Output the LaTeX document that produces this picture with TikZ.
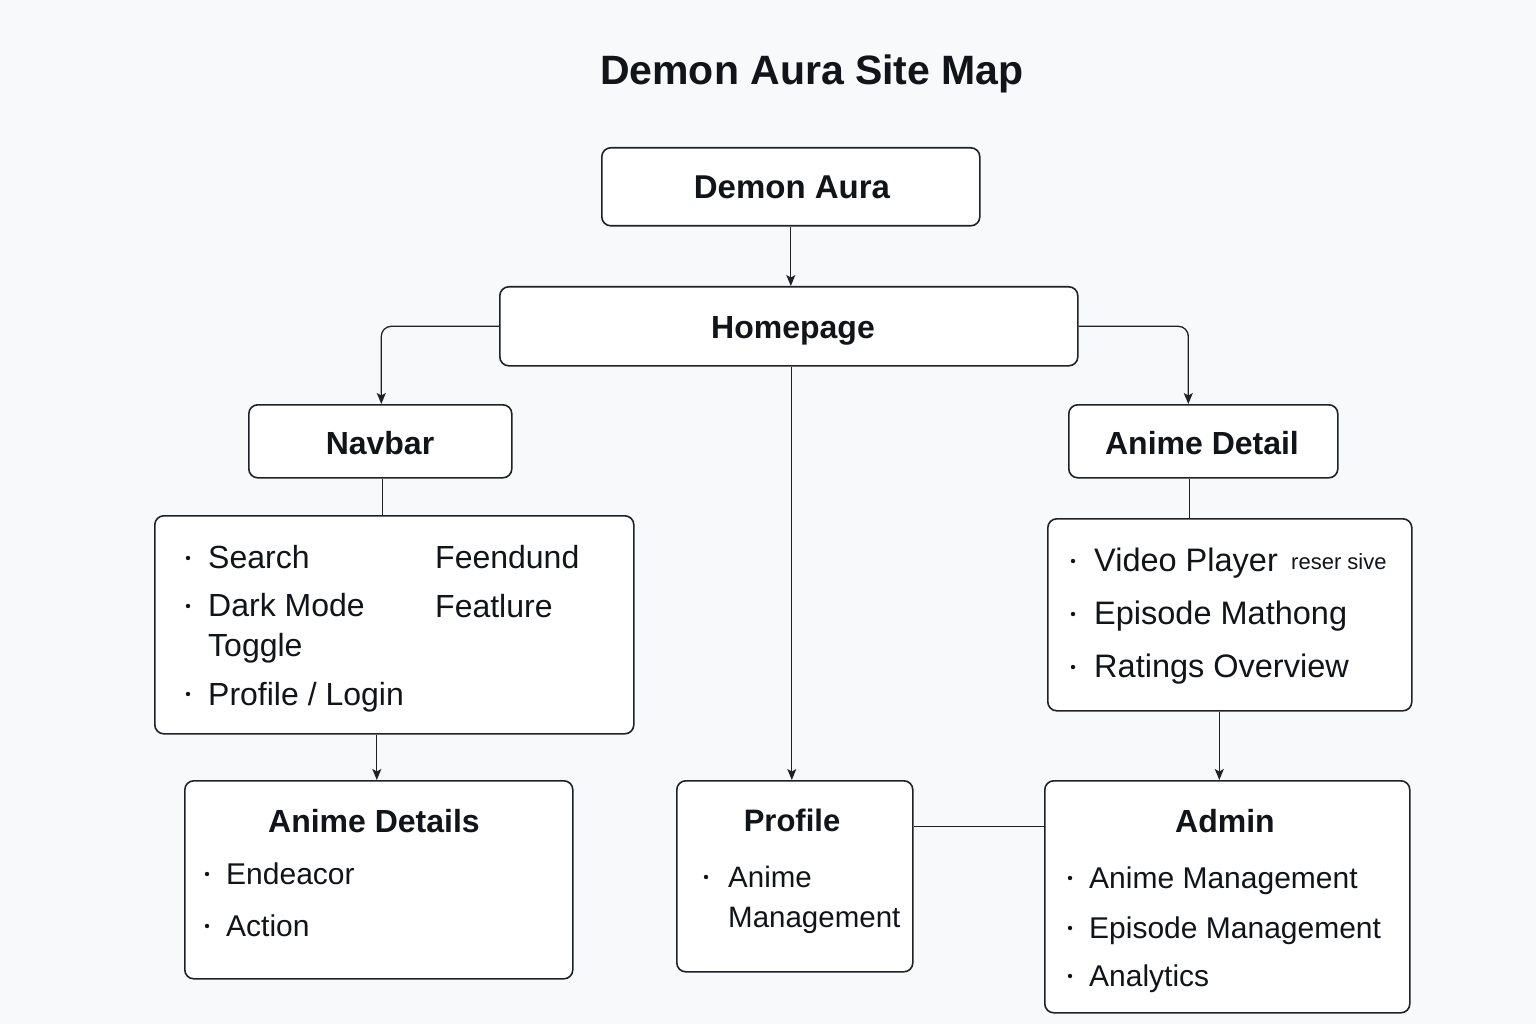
\documentclass[tikz,border=0pt]{standalone}
\usepackage{fontspec}
\setmainfont{Liberation Sans}
\usetikzlibrary{arrows.meta}
\definecolor{bgc}{HTML}{F8F9FA}
\definecolor{ink}{HTML}{111418}
\definecolor{edge}{HTML}{1E2226}
\tikzset{
  box/.style={draw=edge, line width=1.6pt, fill=white, rounded corners=9pt, inner sep=0pt, anchor=north west},
  ttl/.style={text=ink, font=\bfseries\fontsize{31}{31}\selectfont, anchor=base, inner sep=0pt},
  itm/.style={text=ink, font=\fontsize{30}{30}\selectfont, anchor=base west, inner sep=0pt},
  conn/.style={draw=edge, line width=1.3pt},
  arr/.style={conn, -{Stealth[length=11pt,width=9pt,inset=2.5pt]}},
}
\newcommand{\bul}[2]{\fill[ink] (#1,#2) circle (2.2pt);}
\begin{document}
\begin{tikzpicture}[x=1pt,y=-1pt]
\fill[bgc] (0,0) rectangle (1536,1024);
\useasboundingbox (0,0) rectangle (1536,1024);

% title
\node[ttl, font=\bfseries\fontsize{41}{41}\selectfont] (title) at (812,85) {Demon Aura Site Map};

% boxes
\node[box, minimum width=378pt, minimum height=78pt] (demon) at (601,147) {};
\node[box, minimum width=578pt, minimum height=79pt] (home) at (499,286) {};
\node[box, minimum width=263pt, minimum height=73pt] (navbar) at (248,404) {};
\node[box, minimum width=269pt, minimum height=73pt] (adet) at (1068,404) {};
\node[box, minimum width=479pt, minimum height=218pt] (navlist) at (154,515) {};
\node[box, minimum width=364pt, minimum height=192pt] (adlist) at (1047,518) {};
\node[box, minimum width=388pt, minimum height=198pt] (andet) at (184,780) {};
\node[box, minimum width=236pt, minimum height=191pt] (profile) at (676,780) {};
\node[box, minimum width=365pt, minimum height=232pt] (admin) at (1044,780) {};

% box titles
\node[ttl, font=\bfseries\fontsize{33}{33}\selectfont] (tdemon) at (792,199) {Demon Aura};
\node[ttl, font=\bfseries\fontsize{32}{32}\selectfont] (thome) at (793,338) {Homepage};
\node[ttl, font=\bfseries\fontsize{32}{32}\selectfont] (tnav) at (380,454) {Navbar};
\node[ttl, font=\bfseries\fontsize{32}{32}\selectfont] (tadet) at (1202,454) {Anime Detail};
\node[ttl, font=\bfseries\fontsize{32}{32}\selectfont] (tandet) at (374,832) {Anime Details};
\node[ttl] (tprof) at (792,831) {Profile};
\node[ttl, font=\bfseries\fontsize{32}{32}\selectfont] (tadmin) at (1225,832) {Admin};

% navbar list
\bul{188}{558}\node[itm, font=\fontsize{32}{32}\selectfont] (n1) at (208,568) {Search};
\bul{188}{606}\node[itm, font=\fontsize{32}{32}\selectfont] (n2) at (208,616) {Dark Mode};
\node[itm, font=\fontsize{32}{32}\selectfont] (n3) at (208,656) {Toggle};
\bul{188}{694}\node[itm, font=\fontsize{32}{32}\selectfont] (n4) at (208,705) {Profile / Login};
\node[itm, font=\fontsize{32}{32}\selectfont] (n5) at (435,568) {Feendund};
\node[itm, font=\fontsize{32}{32}\selectfont] (n6) at (435,617) {Featlure};

% anime detail list
\bul{1073}{561}\node[itm, font=\fontsize{32.5}{32.5}\selectfont] (a1) at (1094,571) {Video Player};
\node[itm, font=\fontsize{22}{22}\selectfont] (a1b) at (1291,569) {reser sive};
\bul{1073}{614}\node[itm, font=\fontsize{32.5}{32.5}\selectfont] (a2) at (1094,624) {Episode Mathong};
\bul{1073}{667}\node[itm, font=\fontsize{32.5}{32.5}\selectfont] (a3) at (1094,677) {Ratings Overview};

% anime details
\bul{207}{874}\node[itm] (d1) at (226,884) {Endeacor};
\bul{207}{926}\node[itm] (d2) at (226,936) {Action};

% profile
\bul{706}{877}\node[itm, font=\fontsize{29.5}{29.5}\selectfont] (p1) at (728,887) {Anime};
\node[itm, font=\fontsize{29.5}{29.5}\selectfont] (p2) at (728,927) {Management};

% admin
\bul{1070}{878}\node[itm, font=\fontsize{30}{30}\selectfont] (m1) at (1089,888) {Anime Management};
\bul{1070}{928}\node[itm, font=\fontsize{30}{30}\selectfont] (m2) at (1089,938) {Episode Management};
\bul{1070}{976}\node[itm, font=\fontsize{30}{30}\selectfont] (m3) at (1089,986) {Analytics};

% connectors
\coordinate (pl) at ([yshift=50pt]profile.east);
\draw[arr] (demon.south) -- (demon.south |- home.north);
\draw[arr, rounded corners=10pt] (home.west) -| ([xshift=1pt]navbar.north);
\draw[arr, rounded corners=10pt] (home.east) -| ([xshift=-15pt]adet.north);
\draw[conn] ([xshift=2pt]navbar.south) -- ([xshift=2pt]navbar.south |- navlist.north);
\draw[conn] ([xshift=-14pt]adet.south) -- ([xshift=-14pt]adet.south |- adlist.north);
\draw[arr] ([xshift=3pt]home.south) -- ([xshift=3pt]home.south |- profile.north);
\draw[arr] ([xshift=-2pt]andet.north |- navlist.south) -- ([xshift=-2pt]andet.north);
\draw[arr] ([xshift=-8pt]admin.north |- adlist.south) -- ([xshift=-8pt]admin.north);
\draw[conn] (pl) -- (pl -| admin.west);
\end{tikzpicture}
\end{document}
